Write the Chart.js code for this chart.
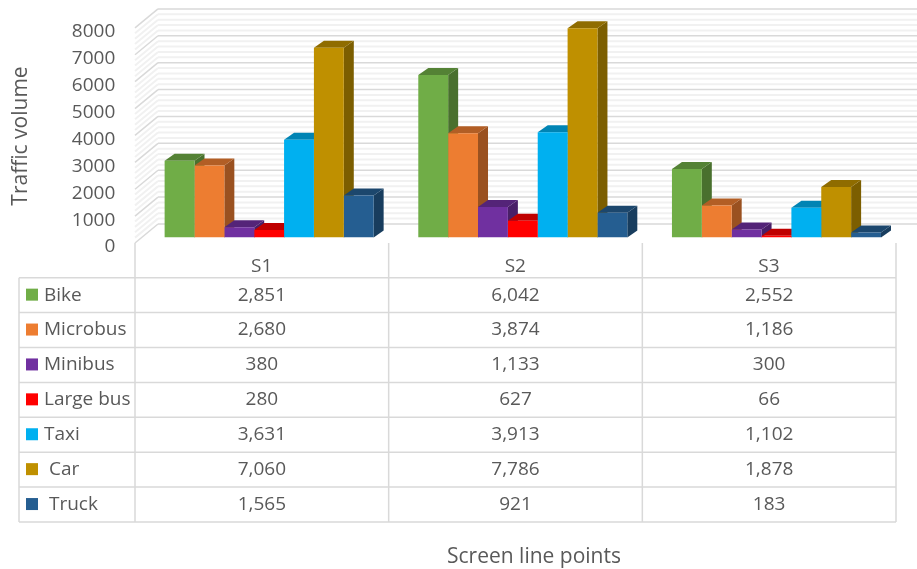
<!DOCTYPE html>
<html>
<head>
<meta charset="utf-8">
<title>Traffic volume</title>
<script src="https://cdn.jsdelivr.net/npm/chart.js@4"></script>
<style>
    html, body { margin: 0; padding: 0; background: #fff; }
    canvas { display: block; }
</style>
</head>
<body>
<canvas id="trafficChart" width="917" height="569"></canvas>
<script>
const categories = ['S1', 'S2', 'S3'];
const seriesNames = ['Bike', 'Microbus', 'Minibus', 'Large bus', 'Taxi', ' Car', ' Truck'];

const bike = [2851, 6042, 2552];
const microbus = [2680, 3874, 1186];
const minibus = [380, 1133, 300];
const largeBus = [280, 627, 66];
const taxi = [3631, 3913, 1102];
const car = [7060, 7786, 1878];
const truck = [1565, 921, 183];
const seriesValues = [bike, microbus, minibus, largeBus, taxi, car, truck];

const seriesColors = ['#70AD47', '#ED7D31', '#7030A0', '#FF0000', '#00B0F0', '#BF9000', '#255E91'];

const yMax = 8000;
const yStep = 1000;
const yMinorStep = 200;

const textColor = '#595959';
const lineColor = '#d9d9d9';
const stripeColor = '#f1f1f1';
const fontFamily = '"Open Sans", sans-serif';

// the 3D box: bars sit in the middle, walls are shifted from the scale position
const barDepth = { x: 10, y: -7 };
const wallFront = { x: -7.3, y: 5.5 };
const wallBack = { x: 15.7, y: -13.5 };

// data table under the plot
const tableLeft = 19;
const tableTop = 277.7;
const rowHeight = 34.9;
const tableLineTop = 243;

function shade(hex, f) {
    const n = parseInt(hex.slice(1), 16);
    const r = Math.round((n >> 16) * f);
    const g = Math.round(((n >> 8) & 255) * f);
    const b = Math.round((n & 255) * f);
    return `rgb(${r},${g},${b})`;
}

function poly(ctx, pts, color) {
    ctx.fillStyle = color;
    ctx.beginPath();
    pts.forEach((p, i) => i ? ctx.lineTo(p[0], p[1]) : ctx.moveTo(p[0], p[1]));
    ctx.closePath();
    ctx.fill();
}

function line(ctx, x1, y1, x2, y2) {
    ctx.beginPath();
    ctx.moveTo(x1, y1);
    ctx.lineTo(x2, y2);
    ctx.stroke();
}

// back wall and side wall stripes, drawn before the bars
const wallsPlugin = {
    id: 'walls',
    beforeDatasetsDraw(chart) {
        const { ctx, chartArea, scales: { y } } = chart;
        const xFront = chartArea.left + wallFront.x;
        const xBack = chartArea.left + wallBack.x;
        const xRight = chart.width;
        ctx.save();
        // stripes first so the heavier lines stay on top
        [false, true].forEach(major => {
            for (let v = 0; v <= yMax; v += yMinorStep) {
                if ((v % yStep === 0) !== major) continue;
                const py = y.getPixelForValue(v);
                ctx.strokeStyle = major ? lineColor : stripeColor;
                ctx.lineWidth = major ? 1.5 : 2;
                line(ctx, xFront, py + wallFront.y, xBack, py + wallBack.y);
                line(ctx, xBack, py + wallBack.y, xRight, py + wallBack.y);
            }
        });
        ctx.restore();
    }
};

// side and top faces of each bar; the front faces come from the chart itself
const barDepthPlugin = {
    id: 'barDepth',
    beforeDatasetsDraw(chart) {
        const { ctx } = chart;
        ctx.save();
        categories.forEach((c, j) => {
            seriesValues.forEach((s, i) => {
                const bar = chart.getDatasetMeta(i).data[j];
                const left = bar.x - bar.width / 2;
                const right = bar.x + bar.width / 2;
                const dx = barDepth.x;
                const dy = barDepth.y;
                poly(ctx, [[right, bar.y], [right + dx, bar.y + dy], [right + dx, bar.base + dy], [right, bar.base]], shade(seriesColors[i], 0.65));
                poly(ctx, [[left, bar.y], [left + dx, bar.y + dy], [right + dx, bar.y + dy], [right, bar.y]], shade(seriesColors[i], 0.75));
            });
        });
        ctx.restore();
    }
};

const tablePlugin = {
    id: 'dataTable',
    afterDraw(chart) {
        const { ctx, chartArea, scales: { x } } = chart;
        const colWidth = x.getPixelForTick(1) - x.getPixelForTick(0);
        const colLeft = chartArea.left + wallFront.x;
        const bottom = tableTop + rowHeight * seriesNames.length;
        const right = colLeft + colWidth * categories.length;

        ctx.save();
        ctx.strokeStyle = lineColor;
        ctx.lineWidth = 1.5;
        seriesNames.forEach((n, r) => line(ctx, tableLeft, tableTop + r * rowHeight, right, tableTop + r * rowHeight));
        line(ctx, tableLeft, bottom, right, bottom);
        line(ctx, tableLeft, tableTop, tableLeft, bottom);
        for (let c = 0; c <= categories.length; c++) {
            line(ctx, colLeft + c * colWidth, tableLineTop, colLeft + c * colWidth, bottom);
        }

        ctx.font = `19px ${fontFamily}`;
        ctx.textBaseline = 'middle';
        seriesNames.forEach((name, r) => {
            const cy = tableTop + (r + 0.5) * rowHeight;
            ctx.fillStyle = seriesColors[r];
            ctx.fillRect(26, cy - 6.5, 12, 12);
            ctx.fillStyle = textColor;
            ctx.textAlign = 'left';
            ctx.fillText(name, 44, cy);
            ctx.textAlign = 'center';
            seriesValues[r].forEach((v, c) => {
                ctx.fillText(v.toLocaleString('en-US'), colLeft + (c + 0.5) * colWidth, cy);
            });
        });

        // axis titles
        ctx.font = `21px ${fontFamily}`;
        ctx.textAlign = 'center';
        ctx.fillText('Screen line points', 534, 557);
        ctx.translate(21, 136);
        ctx.rotate(-Math.PI / 2);
        ctx.fillText('Traffic volume', 0, 0);
        ctx.restore();
    }
};

function dropScalePadding(scale) {
    scale.paddingTop = 0;
    scale.paddingBottom = 0;
    scale.paddingLeft = 0;
    scale.paddingRight = 0;
}

new Chart(document.getElementById('trafficChart'), {
    type: 'bar',
    data: {
        labels: categories,
        datasets: seriesNames.map((name, i) => ({
            label: name,
            data: seriesValues[i],
            backgroundColor: seriesColors[i],
            borderWidth: 0,
        })),
    },
    options: {
        responsive: false,
        animation: false,
        categoryPercentage: 0.824,
        barPercentage: 1,
        layout: {
            padding: { top: 22.4, right: 13.7, bottom: 0, left: 0 }
        },
        plugins: {
            legend: { display: false },
            tooltip: { enabled: false },
        },
        scales: {
            x: {
                grid: { display: false },
                border: { display: false },
                afterFit(scale) {
                    scale.height = 331.5;
                    dropScalePadding(scale);
                },
                ticks: {
                    color: textColor,
                    font: { family: fontFamily, size: 19 },
                    padding: 9.5,
                    labelOffset: -7.5,
                    maxRotation: 0,
                },
            },
            y: {
                min: 0,
                max: yMax,
                grid: { display: false, drawTicks: false },
                border: { display: false },
                afterFit(scale) {
                    scale.width = 142.3;
                    dropScalePadding(scale);
                },
                ticks: {
                    stepSize: yStep,
                    autoSkip: false,
                    color: textColor,
                    font: { family: fontFamily, size: 19 },
                    padding: 27,
                    labelOffset: 9.5,
                    callback: v => String(v),
                },
            },
        },
    },
    plugins: [wallsPlugin, barDepthPlugin, tablePlugin],
});
</script>
</body>
</html>
